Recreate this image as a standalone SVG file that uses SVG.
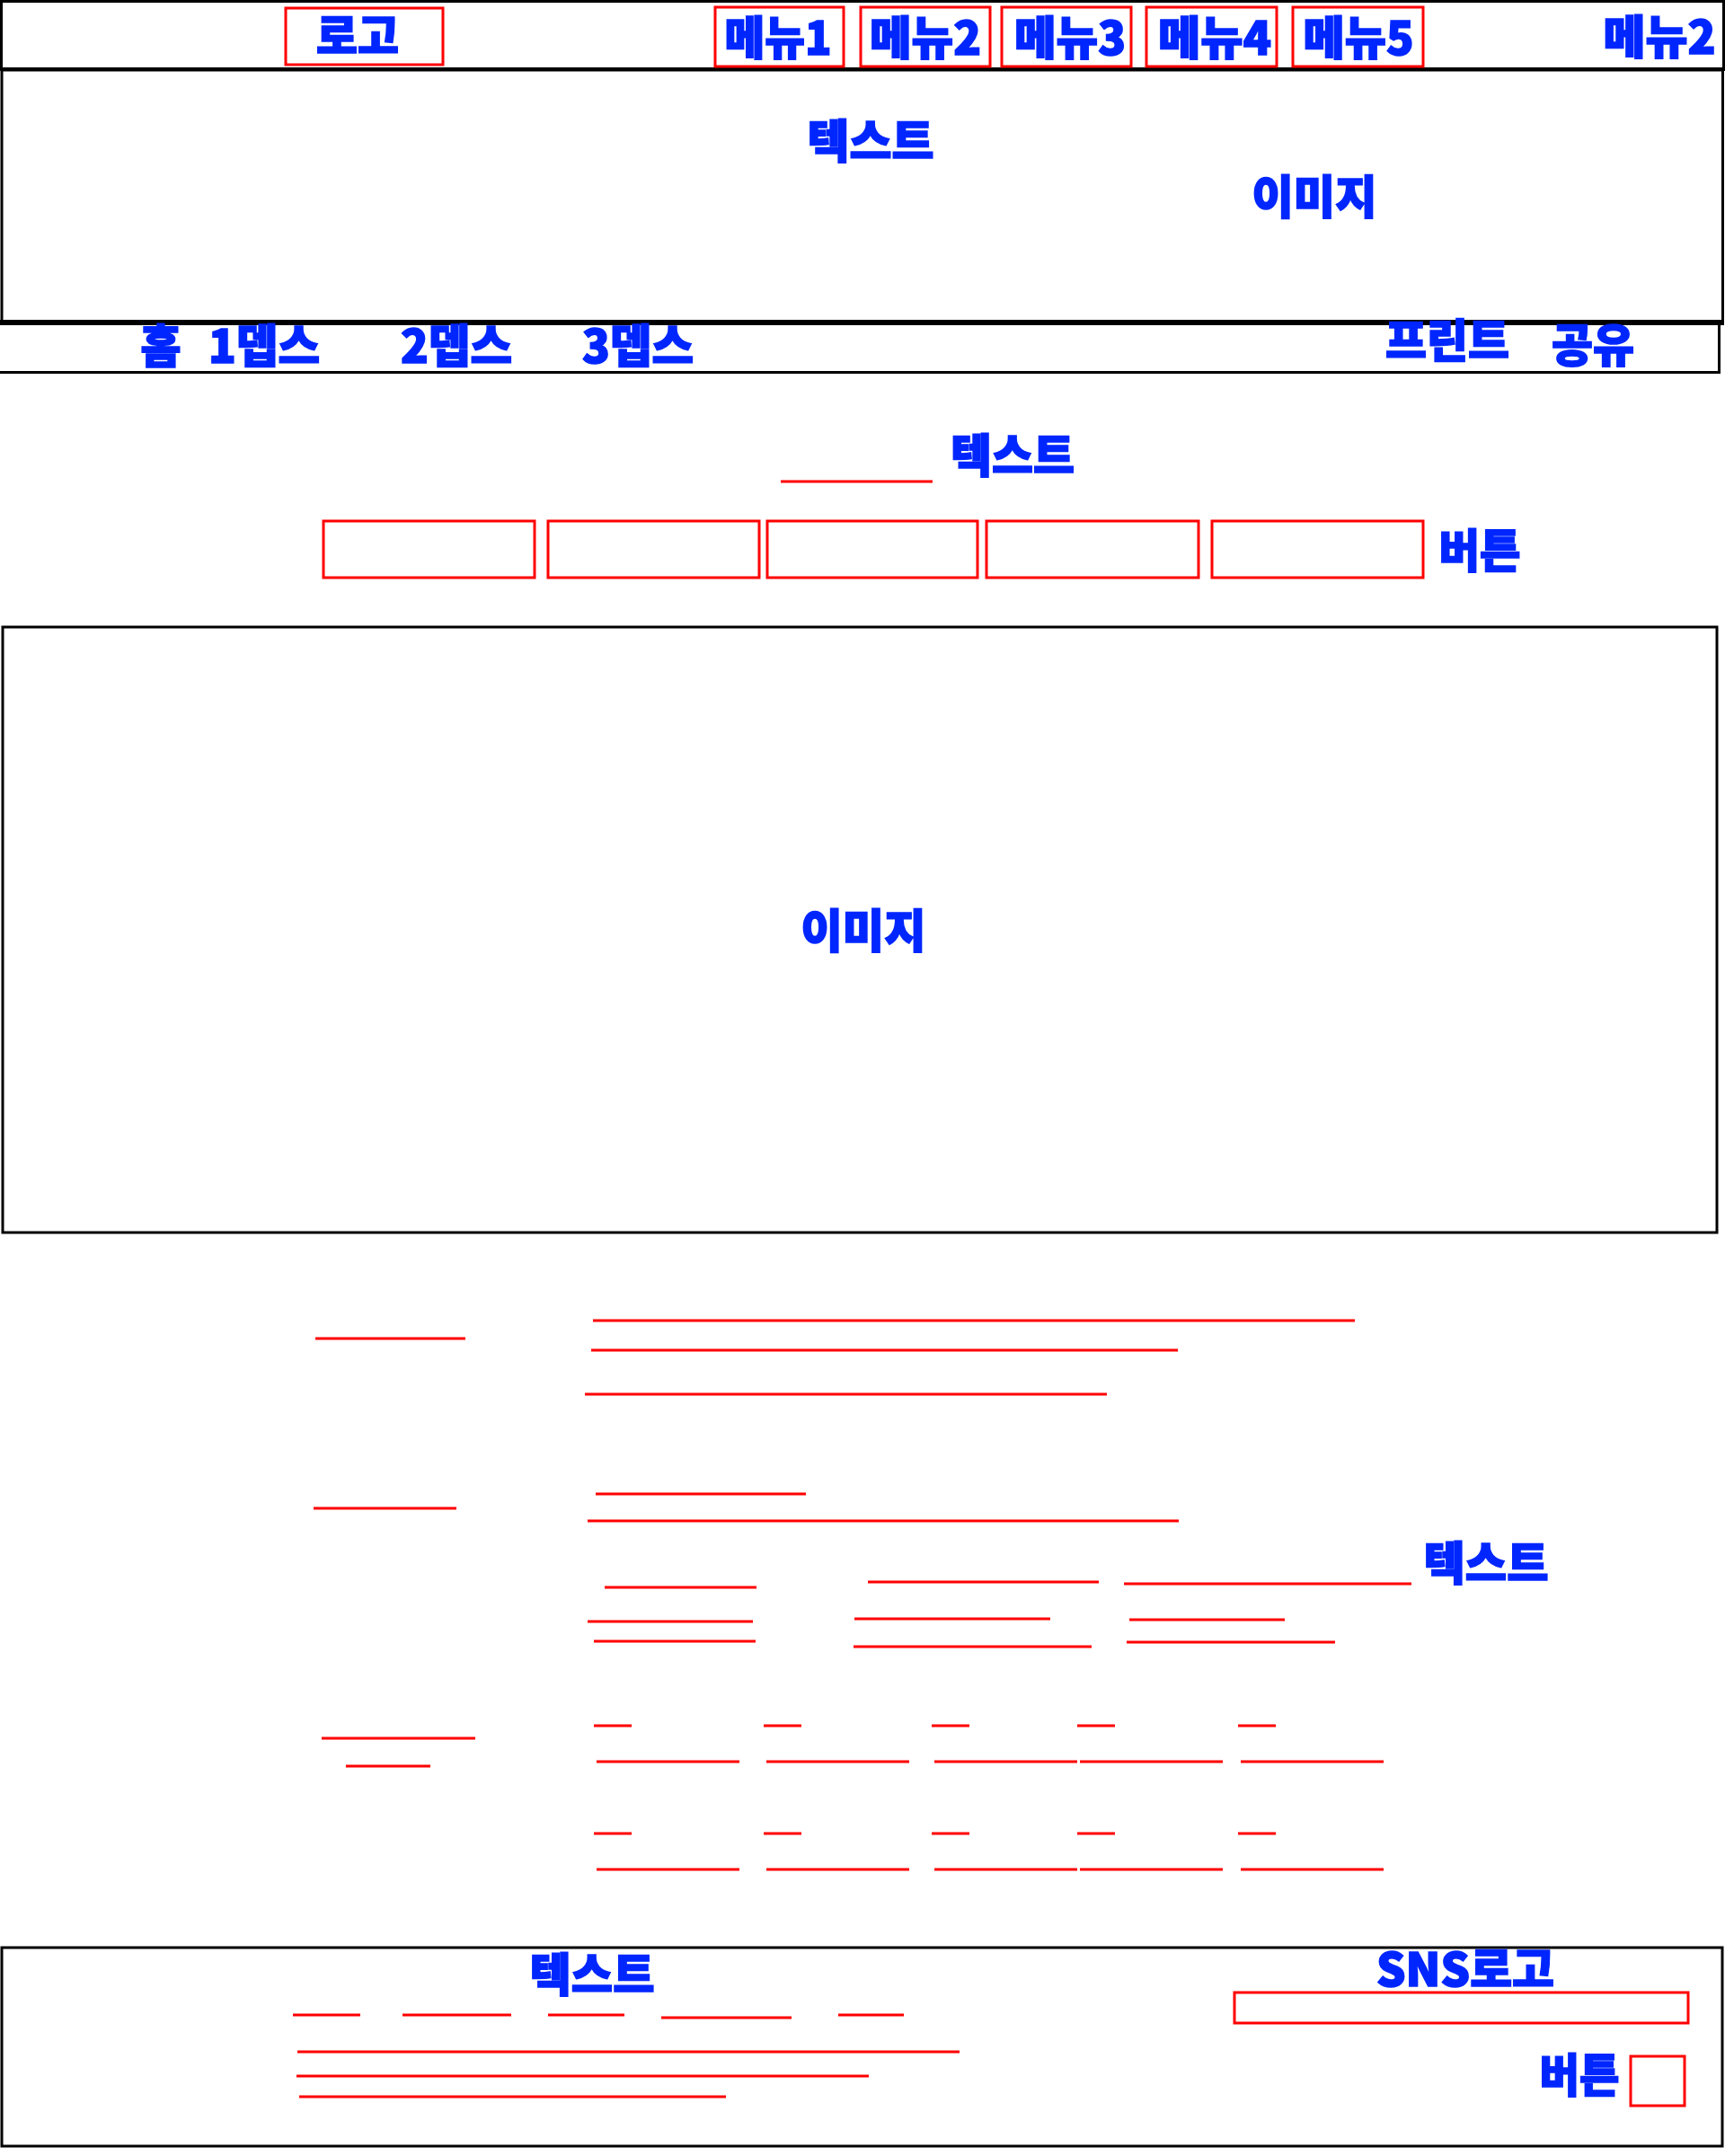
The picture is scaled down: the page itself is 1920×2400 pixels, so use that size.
<svg xmlns="http://www.w3.org/2000/svg" width="1920" height="2400" viewBox="0 0 1920 2400">
<style>
.t{font-family:"Noto Sans CJK KR","Noto Sans",sans-serif;font-weight:900;font-size:51px;fill:#0026ff;stroke:#0026ff;stroke-width:1.6;stroke-linejoin:miter;text-anchor:middle}
.blk{fill:none;stroke:#000;stroke-width:3}
.rbox{fill:none;stroke:#ff0000;stroke-width:3}
.rl{stroke:#ff0000;stroke-width:3;fill:none}
</style>
<rect width="1920" height="2400" fill="#fff"/>

<g id="header">
<rect class="blk" x="1.5" y="1.5" width="1917" height="75.5"/>
<line x1="0" y1="77" x2="1920" y2="77" stroke="#000" stroke-width="4"/>
</g>
<g id="logo">
<rect class="rbox" x="318" y="9" width="175" height="63"/>
<text class="t" x="398" y="59" textLength="92" lengthAdjust="spacingAndGlyphs">로고</text>
</g>
<g id="menu1">
<rect class="rbox" x="796" y="8" width="143" height="66"/>
<text class="t" x="866" y="61" textLength="119" lengthAdjust="spacingAndGlyphs">메뉴1</text>
</g>
<g id="menu2">
<rect class="rbox" x="958" y="8" width="144" height="66"/>
<text class="t" x="1030" y="61" textLength="124" lengthAdjust="spacingAndGlyphs">메뉴2</text>
</g>
<g id="menu3">
<rect class="rbox" x="1115" y="8" width="144" height="66"/>
<text class="t" x="1191" y="61" textLength="124" lengthAdjust="spacingAndGlyphs">메뉴3</text>
</g>
<g id="menu4">
<rect class="rbox" x="1276" y="8" width="145" height="66"/>
<text class="t" x="1352" y="61" textLength="126" lengthAdjust="spacingAndGlyphs">메뉴4</text>
</g>
<g id="menu5">
<rect class="rbox" x="1439" y="8" width="145" height="66"/>
<text class="t" x="1512" y="61" textLength="123" lengthAdjust="spacingAndGlyphs">메뉴5</text>
</g>
<g id="menu-right">
<text class="t" x="1847" y="60" textLength="125" lengthAdjust="spacingAndGlyphs">메뉴2</text>
</g>

<g id="hero">
<rect class="blk" x="2" y="78" width="1915.5" height="281"/>
<line x1="0" y1="359" x2="1919" y2="359" stroke="#000" stroke-width="6"/>
<text class="t" x="969" y="176" textLength="141" lengthAdjust="spacingAndGlyphs">텍스트</text>
<text class="t" x="1463" y="238" textLength="139" lengthAdjust="spacingAndGlyphs">이미지</text>
</g>

<g id="breadcrumb">
<rect class="blk" x="-3" y="360" width="1916.5" height="54.5"/>
<text class="t" x="179" y="404" textLength="45" lengthAdjust="spacingAndGlyphs">홈</text>
<text class="t" x="294" y="404" textLength="124" lengthAdjust="spacingAndGlyphs">1뎁스</text>
<text class="t" x="508" y="404" textLength="124" lengthAdjust="spacingAndGlyphs">2뎁스</text>
<text class="t" x="710" y="404" textLength="124" lengthAdjust="spacingAndGlyphs">3뎁스</text>
<text class="t" x="1611" y="398" textLength="138" lengthAdjust="spacingAndGlyphs">프린트</text>
<text class="t" x="1773" y="403" textLength="92" lengthAdjust="spacingAndGlyphs">공유</text>
</g>

<g id="section-title">
<line class="rl" x1="869" y1="536" x2="1038" y2="536"/>
<text class="t" x="1127" y="526" textLength="138" lengthAdjust="spacingAndGlyphs">텍스트</text>
</g>

<g id="buttons">
<rect class="rbox" x="360" y="580" width="235" height="63"/>
<rect class="rbox" x="610" y="580" width="235" height="63"/>
<rect class="rbox" x="854" y="580" width="234" height="63"/>
<rect class="rbox" x="1098" y="580" width="236" height="63"/>
<rect class="rbox" x="1349" y="580" width="235" height="63"/>
<text class="t" x="1647" y="632" textLength="91" lengthAdjust="spacingAndGlyphs">버튼</text>
</g>

<g id="main-image">
<rect class="blk" x="3" y="698" width="1908" height="674"/>
<text class="t" x="961" y="1055" textLength="139" lengthAdjust="spacingAndGlyphs">이미지</text>
</g>

<g id="content-row1">
<line class="rl" x1="351" y1="1490" x2="518" y2="1490"/>
<line class="rl" x1="660" y1="1470" x2="1508" y2="1470"/>
<line class="rl" x1="658" y1="1503" x2="1311" y2="1503"/>
<line class="rl" x1="651" y1="1552" x2="1232" y2="1552"/>
</g>
<g id="content-row2">
<line class="rl" x1="349" y1="1679" x2="508" y2="1679"/>
<line class="rl" x1="663" y1="1663" x2="897" y2="1663"/>
<line class="rl" x1="654" y1="1693" x2="1312" y2="1693"/>
</g>
<g id="content-row3">
<line class="rl" x1="673" y1="1767" x2="842" y2="1767"/>
<line class="rl" x1="654" y1="1805" x2="838" y2="1805"/>
<line class="rl" x1="661" y1="1827" x2="841" y2="1827"/>
<line class="rl" x1="966" y1="1761" x2="1223" y2="1761"/>
<line class="rl" x1="951" y1="1802" x2="1169" y2="1802"/>
<line class="rl" x1="950" y1="1833" x2="1215" y2="1833"/>
<line class="rl" x1="1251" y1="1763" x2="1571" y2="1763"/>
<line class="rl" x1="1257" y1="1803" x2="1430" y2="1803"/>
<line class="rl" x1="1254" y1="1828" x2="1486" y2="1828"/>
<text class="t" x="1654" y="1759" textLength="139" lengthAdjust="spacingAndGlyphs">텍스트</text>
</g>
<g id="content-row4">
<line class="rl" x1="358" y1="1935" x2="529" y2="1935"/>
<line class="rl" x1="385" y1="1966" x2="479" y2="1966"/>
<line class="rl" x1="661" y1="1921" x2="703" y2="1921"/>
<line class="rl" x1="850" y1="1921" x2="892" y2="1921"/>
<line class="rl" x1="1037" y1="1921" x2="1079" y2="1921"/>
<line class="rl" x1="1199" y1="1921" x2="1241" y2="1921"/>
<line class="rl" x1="1378" y1="1921" x2="1420" y2="1921"/>
<line class="rl" x1="664" y1="1961" x2="823" y2="1961"/>
<line class="rl" x1="853" y1="1961" x2="1012" y2="1961"/>
<line class="rl" x1="1040" y1="1961" x2="1199" y2="1961"/>
<line class="rl" x1="1202" y1="1961" x2="1361" y2="1961"/>
<line class="rl" x1="1381" y1="1961" x2="1540" y2="1961"/>
<line class="rl" x1="661" y1="2041" x2="703" y2="2041"/>
<line class="rl" x1="850" y1="2041" x2="892" y2="2041"/>
<line class="rl" x1="1037" y1="2041" x2="1079" y2="2041"/>
<line class="rl" x1="1199" y1="2041" x2="1241" y2="2041"/>
<line class="rl" x1="1378" y1="2041" x2="1420" y2="2041"/>
<line class="rl" x1="664" y1="2081" x2="823" y2="2081"/>
<line class="rl" x1="853" y1="2081" x2="1012" y2="2081"/>
<line class="rl" x1="1040" y1="2081" x2="1199" y2="2081"/>
<line class="rl" x1="1202" y1="2081" x2="1361" y2="2081"/>
<line class="rl" x1="1381" y1="2081" x2="1540" y2="2081"/>
</g>

<g id="footer">
<rect class="blk" x="2" y="2168" width="1915" height="221"/>
<text class="t" x="659" y="2217" textLength="139" lengthAdjust="spacingAndGlyphs">텍스트</text>
<line class="rl" x1="326" y1="2243" x2="401" y2="2243"/>
<line class="rl" x1="448" y1="2243" x2="569" y2="2243"/>
<line class="rl" x1="610" y1="2243" x2="695" y2="2243"/>
<line class="rl" x1="736" y1="2246" x2="881" y2="2246"/>
<line class="rl" x1="933" y1="2243" x2="1006" y2="2243"/>
<line class="rl" x1="331" y1="2284" x2="1068" y2="2284"/>
<line class="rl" x1="330" y1="2311" x2="967" y2="2311"/>
<line class="rl" x1="333" y1="2334" x2="808" y2="2334"/>
</g>
<g id="sns">
<text class="t" x="1631" y="2211" textLength="198" lengthAdjust="spacingAndGlyphs">SNS로고</text>
<rect class="rbox" x="1374" y="2218" width="505" height="34"/>
</g>
<g id="footer-button">
<text class="t" x="1758" y="2329" textLength="89" lengthAdjust="spacingAndGlyphs">버튼</text>
<rect class="rbox" x="1815" y="2289" width="60" height="55"/>
</g>
<g id="connectors"/>
</svg>
